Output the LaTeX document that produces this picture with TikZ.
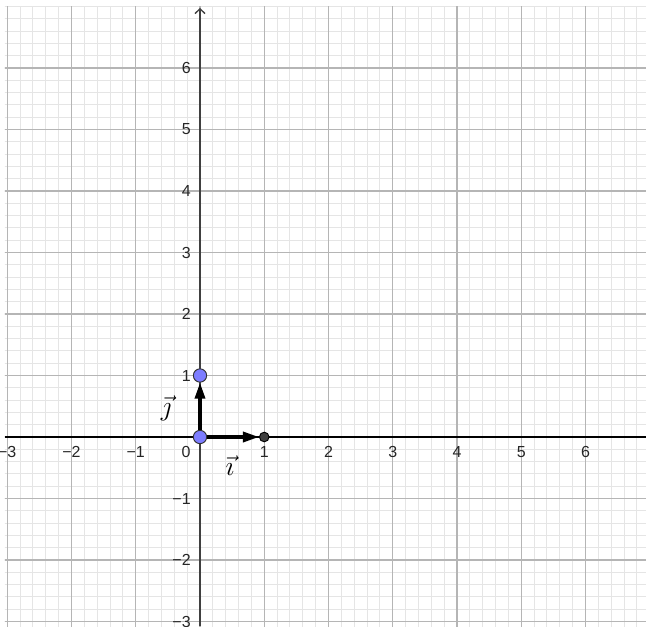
\documentclass[tikz,border=0pt]{standalone}
\usepackage{fontspec}
\setmainfont{Liberation Sans}
\usetikzlibrary{arrows.meta}
\definecolor{minorgrid}{gray}{0.9}
\definecolor{majorgrid}{gray}{0.71}
\definecolor{ptblue}{RGB}{125,125,255}
\definecolor{ptdark}{RGB}{64,64,64}
\begin{document}
\begin{tikzpicture}[x=48.1875pt,y=46.125pt,
  minorline/.style={minorgrid, line width=0.8pt},
  majorline/.style={majorgrid, line width=1.1pt},
  ticklabel/.style={font=\fontsize{12}{14}\selectfont, text=black!85, inner sep=0pt},
  vecline/.style={line width=2.5pt, -{Triangle[length=12pt,width=7.5pt]}},
  bluept/.style={circle, fill=ptblue, draw=black!80, line width=0.7pt, minimum size=10pt, inner sep=0pt},
  darkpt/.style={circle, fill=ptdark, draw=black, line width=0.7pt, minimum size=7.2pt, inner sep=0pt},
  veclabel/.style={font=\fontsize{20}{22}\selectfont, inner sep=0pt}]
\useasboundingbox (-3.1128,-3.0732) rectangle (6.9416,7.1057);
\begin{scope}
\clip (-3.035,-3.0732) rectangle (6.9416,6.992);
\foreach \k in {-16,...,35} { \draw[minorline] (\k/5,-3.2) -- (\k/5,7.2); }
\foreach \k in {-16,...,36} { \draw[minorline] (-3.3,\k/5) -- (7.1,\k/5); }
\foreach \k in {-3,...,6} {
  \draw[majorline] (\k,-3.2) -- (\k,7.2);
  \draw[majorline] (-3.3,\k) -- (7.1,\k);
}
\end{scope}
% axes
\coordinate (xl) at (-3.035,0);
\coordinate (xr) at (6.9416,0);
\coordinate (yb) at (0,-3.0732);
\coordinate (yt) at (0,6.976);
\draw[line width=1.3pt, black] (xl) -- (xr);
\draw[line width=1pt, black!75, -{Straight Barb[length=3.5pt,width=7.5pt]}] (yb) -- (yt);
% tick labels
\foreach \k in {1,...,6} {
  \node[ticklabel] (xp\k) at (\k,-0.244) {\k};
  \node[ticklabel, anchor=east] (yp\k) at (-0.14,\k) {\k};
}
\foreach \k in {1,2,3} {
  \node[ticklabel] (xn\k) at (-\k,-0.244) {−\k};
  \node[ticklabel, anchor=east] (yn\k) at (-0.14,-\k) {−\k};
}
\node[ticklabel] (zero) at (-0.218,-0.244) {0};
% points
\node[bluept] (O) at (0,0) {};
\node[darkpt] (I) at (1,0) {};
\node[bluept] (J) at (0,1) {};
% vectors
\draw[vecline] (O) -- (I);
\draw[vecline] (O) -- (J);
% labels
\node[veclabel] (li) at (0.467,-0.47) {$\vec{\imath}$};
\node[veclabel] (lj) at (-0.529,0.46) {$\vec{\jmath}$};
\end{tikzpicture}
\end{document}
